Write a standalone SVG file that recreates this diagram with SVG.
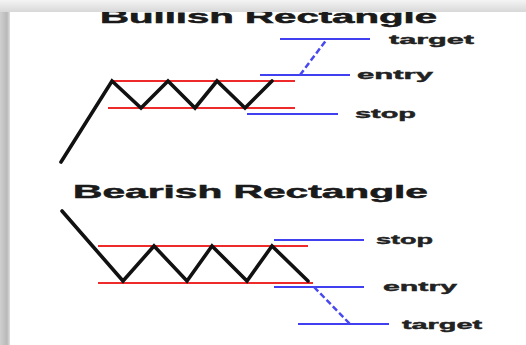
<svg xmlns="http://www.w3.org/2000/svg" width="526" height="345" viewBox="0 0 526 345">
  <defs>
    <linearGradient id="topband" x1="0" y1="0" x2="0" y2="1">
      <stop offset="0" stop-color="#f4f4f4"/>
      <stop offset="1" stop-color="#d8d8d8"/>
    </linearGradient>
    <linearGradient id="leftband" x1="0" y1="0" x2="1" y2="0">
      <stop offset="0" stop-color="#d0d0d0"/>
      <stop offset="0.7" stop-color="#b8b8b8"/>
      <stop offset="1" stop-color="#e0e0e0"/>
    </linearGradient>
  </defs>
  <style>
    .title { font-family: "Liberation Sans", Arial, sans-serif; font-weight: bold; font-size: 18.5px; fill: #1a1a1a; stroke: #1a1a1a; stroke-width: 0.5; }
    .lbl { font-family: "Liberation Sans", Arial, sans-serif; font-weight: bold; font-size: 12.5px; fill: #222; stroke: #222; stroke-width: 0.4; }
    .price { fill: none; stroke: #111; stroke-width: 3.6; stroke-linejoin: miter; stroke-linecap: round; }
    .bound { stroke: #ee2a2a; stroke-width: 2; }
    .level { stroke: #4040f0; stroke-width: 2; }
    .dash { stroke: #4848f0; stroke-width: 2.5; stroke-dasharray: 6 3; }
  </style>
  <rect x="0" y="0" width="526" height="345" fill="#ffffff"/>

  <g id="bullish">
    <text class="title" x="100" y="23" textLength="337" lengthAdjust="spacingAndGlyphs">Bullish Rectangle</text>
    <g id="bull-bounds">
      <line class="bound" x1="112" y1="81" x2="295" y2="81"/>
      <line class="bound" x1="108" y1="108" x2="295" y2="108"/>
    </g>
    <polyline class="price" points="61,162 112,81 141,108 168,81 195,108 217,81 245,108 272,81"/>
    <g id="bull-target">
      <line class="level" x1="280" y1="39" x2="370" y2="39"/>
      <text class="lbl" x="389" y="44" textLength="85" lengthAdjust="spacingAndGlyphs">target</text>
    </g>
    <g id="bull-entry">
      <line class="level" x1="260" y1="75" x2="350" y2="75"/>
      <text class="lbl" x="357" y="79" textLength="76" lengthAdjust="spacingAndGlyphs">entry</text>
    </g>
    <g id="bull-stop">
      <line class="level" x1="247" y1="114" x2="338" y2="114"/>
      <text class="lbl" x="355" y="118" textLength="61" lengthAdjust="spacingAndGlyphs">stop</text>
    </g>
  </g>

  <g id="bearish">
    <text class="title" x="73" y="198" textLength="355" lengthAdjust="spacingAndGlyphs">Bearish Rectangle</text>
    <g id="bear-bounds">
      <line class="bound" x1="98" y1="246" x2="308" y2="246"/>
      <line class="bound" x1="98" y1="283" x2="313" y2="283"/>
    </g>
    <polyline class="price" points="62,211 123,281 154,246 187,281 212,246 247,281 272,246 308,281"/>
    <g id="bear-stop">
      <line class="level" x1="274" y1="240" x2="364" y2="240"/>
      <text class="lbl" x="376" y="244" textLength="57" lengthAdjust="spacingAndGlyphs">stop</text>
    </g>
    <g id="bear-entry">
      <line class="level" x1="274" y1="287" x2="364" y2="287"/>
      <text class="lbl" x="383" y="291" textLength="74" lengthAdjust="spacingAndGlyphs">entry</text>
    </g>
    <g id="bear-target">
      <line class="level" x1="298" y1="324" x2="389" y2="324"/>
      <text class="lbl" x="402" y="329" textLength="80" lengthAdjust="spacingAndGlyphs">target</text>
    </g>
  </g>

  <g id="connectors">
    <line class="dash" x1="300" y1="75" x2="327" y2="39"/>
    <line class="dash" x1="314" y1="287" x2="350" y2="324"/>
  </g>

  <rect x="0" y="0" width="526" height="12" fill="url(#topband)"/>
  <rect x="0" y="12" width="10" height="333" fill="url(#leftband)"/>
</svg>
